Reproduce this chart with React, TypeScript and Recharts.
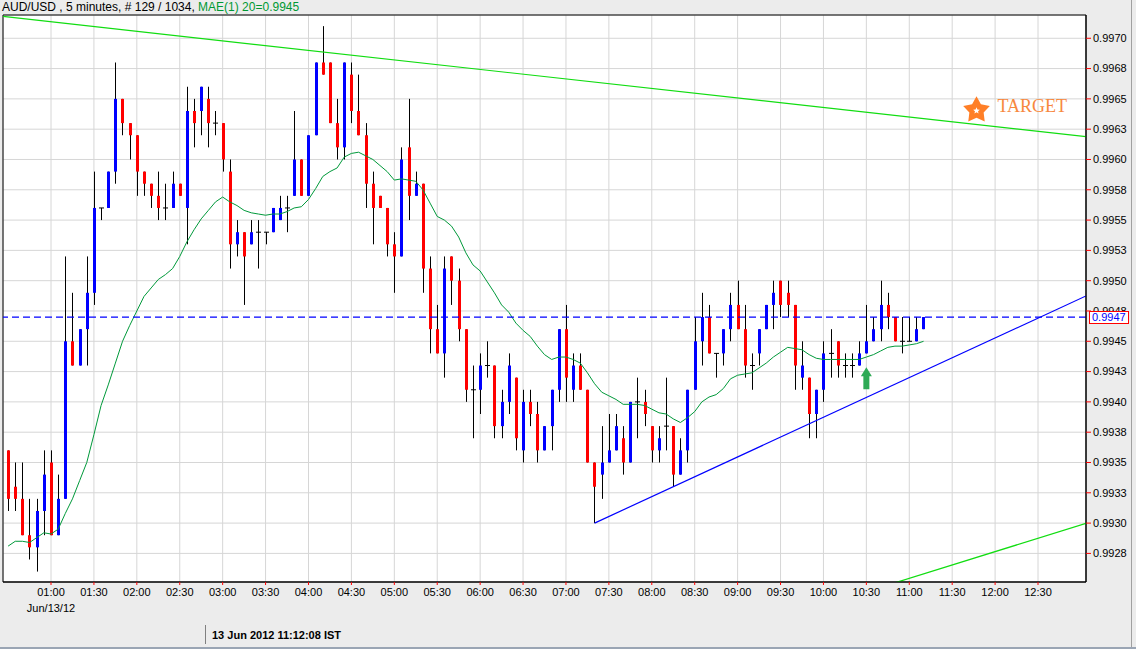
import React from "react";
import {
  ComposedChart,
  Bar,
  Line,
  XAxis,
  YAxis,
  CartesianGrid,
  ReferenceLine,
  ReferenceArea,
  ReferenceDot,
} from "recharts";

// AUD/USD 5 minute candles from 00:30, prices in 1/10000 (9936 = 0.9936)
const OPEN = [
  9936, 9933, 9932, 9929, 9928, 9931, 9935, 9929, 9932, 9945, 9943, 9946, 9949, 9956, 9956, 9959,
  9965, 9963, 9962, 9959, 9958, 9957, 9956, 9956, 9958, 9956, 9964, 9964, 9965, 9963, 9963, 9959,
  9953, 9954, 9953, 9954, 9954, 9954, 9955, 9956, 9957, 9960, 9957, 9962, 9968, 9968, 9963, 9961,
  9967, 9964, 9962, 9958, 9957, 9956, 9953, 9952, 9961, 9957, 9958, 9951, 9946, 9944, 9952, 9950,
  9946, 9941, 9941, 9943, 9943, 9938, 9940, 9942, 9936, 9940, 9939, 9936, 9938, 9941, 9946, 9941,
  9943, 9941, 9935, 9934, 9935, 9936, 9937, 9935, 9940, 9940, 9938, 9936, 9938, 9938, 9934, 9936,
  9941, 9945, 9947, 9944, 9944, 9946, 9948, 9946, 9943, 9944, 9946, 9948, 9950, 9949, 9948, 9942,
  9942, 9939, 9941, 9944, 9945, 9943, 9943, 9943, 9944, 9945, 9946, 9948, 9947, 9945, 9945, 9945,
  9946,
];
const HIGH = [
  9936, 9935, 9935, 9932, 9932, 9936, 9936, 9934, 9952, 9949, 9946, 9952, 9959, 9956, 9959, 9968,
  9965, 9963, 9962, 9959, 9958, 9959, 9958, 9959, 9958, 9966, 9965, 9966, 9966, 9964, 9963, 9960,
  9955, 9954, 9955, 9955, 9954, 9956, 9957, 9957, 9964, 9960, 9962, 9968, 9971, 9968, 9965, 9968,
  9968, 9967, 9963, 9959, 9957, 9956, 9954, 9961, 9965, 9959, 9958, 9952, 9948, 9952, 9952, 9951,
  9946, 9943, 9944, 9945, 9943, 9941, 9944, 9942, 9941, 9941, 9940, 9938, 9941, 9946, 9948, 9944,
  9944, 9941, 9935, 9938, 9939, 9939, 9938, 9940, 9942, 9941, 9938, 9938, 9942, 9938, 9937, 9941,
  9947, 9949, 9948, 9944, 9946, 9949, 9950, 9948, 9944, 9946, 9948, 9950, 9950, 9950, 9948, 9945,
  9942, 9941, 9945, 9946, 9945, 9944, 9944, 9945, 9948, 9947, 9950, 9949, 9947, 9947, 9947, 9947,
  9947,
];
const LOW = [
  9931, 9931, 9929, 9927, 9926, 9929, 9929, 9929, 9932, 9943, 9943, 9943, 9948, 9955, 9956, 9958,
  9962, 9960, 9957, 9957, 9956, 9955, 9955, 9956, 9957, 9953, 9961, 9962, 9961, 9962, 9959, 9951,
  9952, 9948, 9953, 9951, 9953, 9954, 9955, 9954, 9957, 9957, 9957, 9962, 9967, 9963, 9960, 9960,
  9963, 9962, 9956, 9953, 9956, 9952, 9949, 9952, 9955, 9957, 9949, 9944, 9944, 9942, 9948, 9945,
  9940, 9937, 9939, 9942, 9937, 9937, 9939, 9936, 9935, 9938, 9935, 9936, 9936, 9940, 9940, 9940,
  9941, 9935, 9930, 9932, 9935, 9936, 9934, 9935, 9937, 9938, 9935, 9935, 9936, 9933, 9934, 9935,
  9941, 9943, 9944, 9942, 9943, 9945, 9946, 9942, 9941, 9943, 9946, 9946, 9947, 9947, 9941, 9941,
  9937, 9937, 9940, 9942, 9942, 9942, 9942, 9943, 9944, 9945, 9945, 9946, 9945, 9944, 9945, 9945,
  9946,
];
const CLOSE = [
  9932, 9932, 9929, 9928, 9931, 9934, 9929, 9932, 9945, 9943, 9946, 9949, 9956, 9956, 9959, 9965,
  9963, 9962, 9959, 9958, 9957, 9956, 9956, 9958, 9957, 9964, 9963, 9966, 9963, 9963, 9960, 9953,
  9954, 9952, 9954, 9954, 9954, 9956, 9956, 9956, 9960, 9957, 9962, 9968, 9967, 9963, 9961, 9968,
  9964, 9962, 9958, 9956, 9956, 9953, 9952, 9960, 9957, 9958, 9951, 9946, 9944, 9951, 9950, 9946,
  9941, 9941, 9943, 9943, 9938, 9940, 9943, 9937, 9940, 9939, 9936, 9938, 9941, 9946, 9942, 9943,
  9941, 9935, 9933, 9935, 9936, 9938, 9935, 9940, 9940, 9939, 9936, 9937, 9938, 9934, 9936, 9941,
  9945, 9947, 9944, 9944, 9946, 9948, 9946, 9943, 9943, 9946, 9948, 9949, 9948, 9948, 9943, 9943,
  9939, 9941, 9944, 9944, 9943, 9943, 9943, 9944, 9945, 9946, 9948, 9947, 9945, 9945, 9945, 9946,
  9947,
];
// MAE(1) 20 line
const MAE20 = [
  9928.1, 9928.5, 9928.5, 9928.4, 9928.8, 9929.2, 9929.1, 9929.5, 9930.8, 9932.0, 9933.5, 9935.0,
  9937.3, 9939.7, 9941.4, 9943.2, 9945.0, 9946.3, 9947.5, 9948.7, 9949.4, 9950.1, 9950.5, 9951.0,
  9952.0, 9953.2, 9954.2, 9955.1, 9955.8, 9956.5, 9956.9, 9956.5, 9956.2, 9955.8, 9955.6, 9955.5,
  9955.4, 9955.5, 9955.5, 9955.7, 9956.0, 9956.1, 9956.7, 9957.6, 9958.6, 9959.0, 9959.3, 9960.2,
  9960.5, 9960.6, 9960.3, 9960.0, 9959.5, 9959.0, 9958.3, 9958.4, 9958.3, 9958.2, 9957.5, 9956.4,
  9955.3, 9955.0, 9954.5, 9953.6, 9952.3, 9951.3, 9950.8, 9949.9, 9949.0, 9948.0, 9947.4, 9946.5,
  9945.9, 9945.4, 9944.6, 9943.9, 9943.5, 9943.7, 9943.7, 9943.5, 9943.2, 9942.4, 9941.5, 9940.8,
  9940.5, 9940.2, 9939.8, 9939.8, 9939.8, 9939.7, 9939.4, 9939.1, 9939.0, 9938.6, 9938.3, 9938.7,
  9939.2, 9940.0, 9940.4, 9940.6, 9941.1, 9941.9, 9942.2, 9942.3, 9942.4, 9942.8, 9943.2, 9943.7,
  9944.1, 9944.5, 9944.4, 9944.3, 9943.9, 9943.6, 9943.5, 9943.5, 9943.5, 9943.5, 9943.5, 9943.5,
  9943.7, 9943.9, 9944.2, 9944.5, 9944.6, 9944.6, 9944.7, 9944.8, 9945.0,
];

const TIME_LABELS = [
  "01:00", "01:30", "02:00", "02:30", "03:00", "03:30", "04:00", "04:30", "05:00", "05:30",
  "06:00", "06:30", "07:00", "07:30", "08:00", "08:30", "09:00", "09:30", "10:00", "10:30",
  "11:00", "11:30", "12:00", "12:30",
];
const DATE_LABEL = "Jun/13/12";
const PRICE_TICKS = [
  9927.5, 9930, 9932.5, 9935, 9937.5, 9940, 9942.5, 9945, 9947.5, 9950, 9952.5, 9955, 9957.5,
  9960, 9962.5, 9965, 9967.5, 9970,
];
const PRICE_LABELS = [
  "0.9928", "0.9930", "0.9933", "0.9935", "0.9938", "0.9940", "0.9943", "0.9945", "0.9948",
  "0.9950", "0.9953", "0.9955", "0.9958", "0.9960", "0.9963", "0.9965", "0.9968", "0.9970",
];

// trend lines: [candle index, price]
const UPPER_TREND = [[-0.71, 9971.8], [150.71, 9961.88]];
const SUPPORT_TREND = [[82, 9930], [150.71, 9948.74]];
const LOWER_TREND = [[120, 9924.34], [150.71, 9929.98]];
const ARROW_AT = [120, 9941.95];
const TARGET_AT = [135.4, 9964.06];

const X_DOMAIN = [-0.713, 150.71];
const Y_DOMAIN = [9925.14, 9971.92];

const FONT = "'Liberation Sans', Arial, sans-serif";
const STEP = 6; // candles per 30 minutes
const TOP = 15;
const PLOT_H = 567;

const rows = OPEN.map((o, i) => ({
  i,
  open: o,
  high: HIGH[i],
  low: LOW[i],
  close: CLOSE[i],
  range: [LOW[i], HIGH[i]],
  ma: MAE20[i],
}));
const xTicks = TIME_LABELS.map((_, k) => (k + 1) * STEP);
const last = CLOSE[CLOSE.length - 1];
const lastY = TOP + ((Y_DOMAIN[1] - last) / (Y_DOMAIN[1] - Y_DOMAIN[0])) * PLOT_H;

function Candle(props: any) {
  const { x, y, width, height, payload } = props;
  const { open, high, low, close } = payload;
  const top = Math.min(y, y + height);
  const k = high === low ? 0 : Math.abs(height) / (high - low);
  const py = (v: number) => top + (high - v) * k;
  const cx = Math.round(x + width / 2) + 0.5;
  const up = close > open;
  return (
    <g>
      <line x1={cx} x2={cx} y1={py(high)} y2={py(low)} stroke="#000" strokeWidth={1} />
      {open === close ? (
        <line x1={cx - 2.5} x2={cx + 2.5} y1={py(open)} y2={py(open)} stroke="#000" strokeWidth={1} />
      ) : (
        <rect
          x={cx - 1.5}
          width={3}
          y={py(Math.max(open, close))}
          height={Math.abs(py(open) - py(close))}
          fill={up ? "#0000ff" : "#ff0000"}
        />
      )}
    </g>
  );
}

function TimeTick({ x, y, payload }: any) {
  const k = xTicks.indexOf(payload.value);
  return (
    <g>
      <text x={x} y={y + 9} textAnchor="middle" fontSize={11} fontFamily={FONT} fill="#000">
        {TIME_LABELS[k]}
      </text>
      {k === 0 && (
        <text x={x} y={y + 25} textAnchor="middle" fontSize={11} fontFamily={FONT} fill="#000">
          {DATE_LABEL}
        </text>
      )}
    </g>
  );
}

function UpArrow({ cx, cy }: any) {
  const pts = [
    [cx, cy - 11],
    [cx + 5.5, cy - 2],
    [cx + 3, cy - 2],
    [cx + 3, cy + 11],
    [cx - 3, cy + 11],
    [cx - 3, cy - 2],
    [cx - 5.5, cy - 2],
  ];
  return <polygon points={pts.map((p) => p.join(",")).join(" ")} fill="#2eaa55" />;
}

function starPoints(cx: number, cy: number, r1: number, r2: number) {
  const pts: string[] = [];
  for (let n = 0; n < 10; n++) {
    const r = n % 2 === 0 ? r1 : r2;
    const a = -Math.PI / 2 + (n * Math.PI) / 5;
    pts.push(`${cx + r * Math.cos(a)},${cy + r * Math.sin(a)}`);
  }
  return pts.join(" ");
}

function Target({ cx, cy }: any) {
  return (
    <g>
      <polygon points={starPoints(cx, cy, 14, 7.5)} fill="#ff7f27" />
      <polygon points={starPoints(cx, cy + 0.5, 3.5, 1.6)} fill="#fff" />
      <text
        x={cx + 21}
        y={cy + 1.7}
        fontSize={18}
        fontFamily="'Liberation Serif', 'Times New Roman', serif"
        fill="#f7883e"
      >
        TARGET
      </text>
    </g>
  );
}

const seg = (p: number[][]) => p.map(([x, y]) => ({ x, y }));

export default function App() {
  return (
    <div
      style={{
        position: "absolute",
        left: 0,
        top: 0,
        width: 1136,
        height: 649,
        background: "#ececec",
        overflow: "hidden",
        fontFamily: FONT,
      }}
    >
      <div style={{ position: "absolute", left: 2, top: 0, fontSize: 12, lineHeight: "15px", color: "#000", whiteSpace: "nowrap" }}>
        AUD/USD , 5 minutes, # 129 / 1034, <span style={{ color: "#009933" }}>MAE(1) 20=0.9945</span>
      </div>
      <ComposedChart
        width={1136}
        height={649}
        data={rows}
        margin={{ top: TOP, right: 0, bottom: 0, left: 3 }}
        style={{ position: "absolute", left: 0, top: 0 }}
      >
        <CartesianGrid stroke="#d6d6d6" fill="#fff" />
        <XAxis
          dataKey="i"
          type="number"
          domain={X_DOMAIN}
          allowDataOverflow
          ticks={xTicks}
          interval={0}
          height={649 - TOP - PLOT_H}
          tickSize={3}
          tickMargin={2}
          tickLine={{ stroke: "#ff0000" }}
          axisLine={{ stroke: "#000" }}
          tick={<TimeTick />}
        />
        <YAxis
          orientation="right"
          type="number"
          domain={Y_DOMAIN}
          allowDataOverflow
          ticks={PRICE_TICKS}
          interval={0}
          width={50}
          tickSize={5}
          tickMargin={2}
          tickLine={{ stroke: "#ff0000" }}
          axisLine={{ stroke: "#000" }}
          tick={{ fontSize: 11, fill: "#000", fontFamily: FONT }}
          tickFormatter={(v: number) => PRICE_LABELS[PRICE_TICKS.indexOf(v)]}
        />
        <ReferenceArea
          x1={X_DOMAIN[0]}
          x2={X_DOMAIN[1]}
          y1={Y_DOMAIN[0]}
          y2={Y_DOMAIN[1]}
          fill="none"
          stroke="#000"
          strokeWidth={1}
          ifOverflow="visible"
        />
        <Bar dataKey="range" barSize={3} shape={<Candle />} isAnimationActive={false} />
        <Line
          dataKey="ma"
          type="linear"
          stroke="#00993a"
          strokeWidth={1}
          dot={false}
          activeDot={false}
          isAnimationActive={false}
        />
        <ReferenceLine segment={seg(UPPER_TREND)} stroke="#11dd11" strokeWidth={1.2} ifOverflow="hidden" />
        <ReferenceLine segment={seg(SUPPORT_TREND)} stroke="#0000ff" strokeWidth={1.2} ifOverflow="hidden" />
        <ReferenceLine segment={seg(LOWER_TREND)} stroke="#11dd11" strokeWidth={1.2} ifOverflow="hidden" />
        <ReferenceLine y={last} stroke="#0000ff" strokeWidth={1.2} strokeDasharray="7 4" />
        <ReferenceDot x={ARROW_AT[0]} y={ARROW_AT[1]} r={0} shape={<UpArrow />} />
        <ReferenceDot x={TARGET_AT[0]} y={TARGET_AT[1]} r={0} shape={<Target />} ifOverflow="visible" />
      </ComposedChart>
      {/* last price tag over the price axis */}
      <div
        style={{
          position: "absolute",
          left: 1089,
          top: lastY - 6,
          width: 36,
          height: 11,
          border: "1px solid #ff0000",
          background: "#fff",
          color: "#0000ff",
          fontSize: 11,
          lineHeight: "11px",
          paddingLeft: 2,
        }}
      >
        {(last / 10000).toFixed(4)}
      </div>
      <div style={{ position: "absolute", left: 205, top: 625, width: 1, height: 19, background: "#808080" }} />
      <div style={{ position: "absolute", left: 212, top: 628, fontSize: 11, fontWeight: "bold", lineHeight: "14px", color: "#000" }}>
        13 Jun 2012 11:12:08 IST
      </div>
      <div style={{ position: "absolute", left: 1131, top: 0, width: 1, height: 647, background: "#a0a0a0" }} />
      <div style={{ position: "absolute", left: 0, top: 647, width: 1136, height: 2, background: "#9aa5b4" }} />
    </div>
  );
}
